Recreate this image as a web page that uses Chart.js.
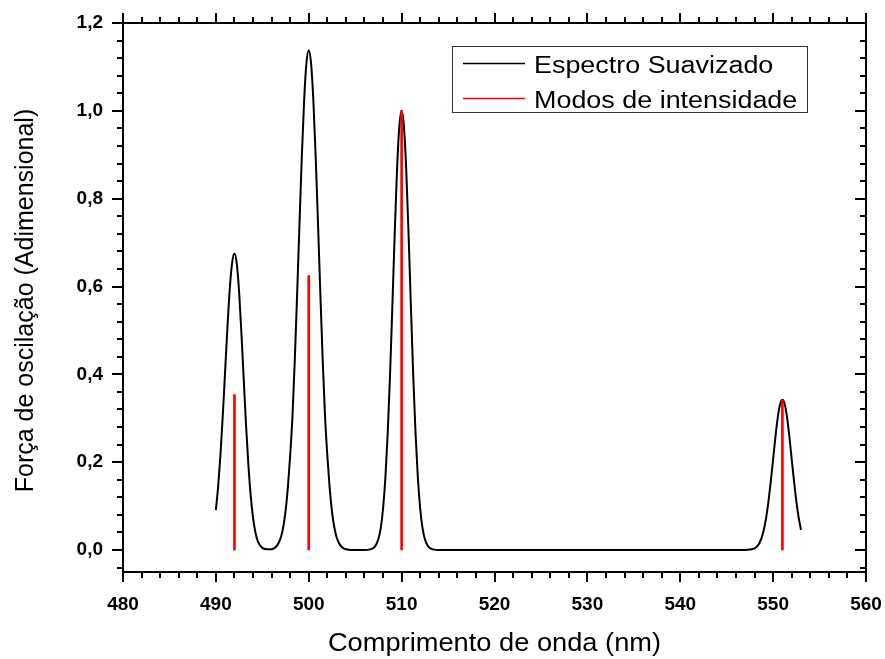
<!DOCTYPE html>
<html>
<head>
<meta charset="utf-8">
<script src="https://cdn.jsdelivr.net/npm/chart.js@4.4.1/dist/chart.umd.min.js"></script>
<style>
  html, body { margin: 0; padding: 0; background: #fff; }
</style>
</head>
<body>
<canvas id="spec" width="885" height="659"></canvas>
<script>
// smoothed spectrum (nm, dimensionless)
const specX = [
  490, 490.25, 490.5, 490.75, 491, 491.25, 491.5, 491.75, 492, 492.25, 492.5, 492.75,
  493, 493.25, 493.5, 493.75, 494, 494.25, 494.5, 494.75, 495, 495.5, 496,
  496.25, 496.5, 496.75, 497, 497.25, 497.5, 497.75, 498, 498.25, 498.5, 498.75,
  499, 499.25, 499.5, 499.75, 500, 500.25, 500.5, 500.75, 501, 501.25, 501.5, 501.75,
  502, 502.25, 502.5, 502.75, 503, 503.25, 503.5, 503.75, 504, 505, 506, 506.5,
  507, 507.25, 507.5, 507.75, 508, 508.25, 508.5, 508.75, 509, 509.25, 509.5, 509.75,
  510, 510.25, 510.5, 510.75, 511, 511.25, 511.5, 511.75, 512, 512.25, 512.5, 512.75,
  513, 513.5, 514, 520, 530, 540, 547, 547.5, 548, 548.25, 548.5, 548.75,
  549, 549.25, 549.5, 549.75, 550, 550.25, 550.5, 550.75, 551, 551.25, 551.5, 551.75,
  552, 552.25, 552.5, 552.75, 553
];
const specY = [
  0.091, 0.146, 0.219, 0.309, 0.409, 0.509, 0.596, 0.654, 0.675, 0.652, 0.588, 0.494,
  0.388, 0.284, 0.194, 0.124, 0.074, 0.041, 0.021, 0.011, 0.005, 0.002, 0.002,
  0.004, 0.008, 0.016, 0.029, 0.052, 0.088, 0.142, 0.215, 0.306, 0.434, 0.583,
  0.741, 0.894, 1.022, 1.108, 1.138, 1.108, 1.022, 0.894, 0.741, 0.583, 0.434, 0.306,
  0.215, 0.142, 0.088, 0.052, 0.029, 0.016, 0.008, 0.004, 0.002, 0, 0, 0.001,
  0.005, 0.012, 0.025, 0.050, 0.094, 0.164, 0.265, 0.397, 0.554, 0.717, 0.863, 0.964,
  1.000, 0.964, 0.863, 0.717, 0.554, 0.397, 0.265, 0.164, 0.094, 0.050, 0.025, 0.012,
  0.005, 0.001, 0, 0, 0, 0, 0, 0.001, 0.004, 0.008, 0.015, 0.027,
  0.046, 0.074, 0.111, 0.157, 0.207, 0.258, 0.302, 0.332, 0.342, 0.332, 0.302, 0.258,
  0.207, 0.157, 0.111, 0.074, 0.046
];

// intensity modes (sticks)
const modeX = [492, 500, 510, 551];
const modeY = [0.354, 0.625, 1.0, 0.342];

const xTicks = [480, 490, 500, 510, 520, 530, 540, 550, 560];
const yTicks = [0, 0.2, 0.4, 0.6, 0.8, 1.0, 1.2];
const seriesNames = ['Espectro Suavizado', 'Modos de intensidade'];

const FONT = "'Liberation Sans', Arial, sans-serif";

// stretched text, the original figure is wider than its glyph height
function wideText(ctx, txt, x, y, sx) {
  ctx.save();
  ctx.translate(x, y);
  ctx.scale(sx, 1);
  ctx.fillText(txt, 0, 0);
  ctx.restore();
}

const frame = {
  id: 'frame',
  afterDatasetsDraw(chart) {
    const { ctx, chartArea: a, scales: { x, y } } = chart;
    ctx.save();
    ctx.strokeStyle = '#000';
    ctx.lineWidth = 2;
    ctx.strokeRect(a.left, a.top, a.right - a.left, a.bottom - a.top);

    ctx.beginPath();
    // x ticks: outward on bottom and top
    for (let i = 0; i < xTicks.length; i++) {
      for (let k = 0; k < 5; k++) {
        if (i === xTicks.length - 1 && k > 0) break;
        const v = xTicks[i] + k * (xTicks[1] - xTicks[0]) / 5;
        const px = Math.round(x.getPixelForValue(v));
        const len = k === 0 ? 10 : 6;
        ctx.moveTo(px, a.bottom); ctx.lineTo(px, a.bottom + len);
        ctx.moveTo(px, a.top); ctx.lineTo(px, a.top - len);
      }
    }
    // y ticks: outward on the left, inward on the right
    for (let i = -1; i < yTicks.length; i++) {
      for (let k = 0; k < 5; k++) {
        const base = i < 0 ? -0.2 : yTicks[i];
        const v = base + k * 0.04;
        if (v < y.min - 1e-9 || v > y.max + 1e-9) continue;
        if (i === yTicks.length - 1 && k > 0) break;
        const py = Math.round(y.getPixelForValue(v));
        const len = k === 0 ? 11 : 6;
        ctx.moveTo(a.left, py); ctx.lineTo(a.left - len, py);
        ctx.moveTo(a.right, py); ctx.lineTo(a.right - len, py);
      }
    }
    ctx.stroke();

    // axis titles
    ctx.fillStyle = '#000';
    ctx.font = '25px ' + FONT;
    ctx.textAlign = 'center';
    ctx.textBaseline = 'alphabetic';
    wideText(ctx, 'Comprimento de onda (nm)', (a.left + a.right) / 2, 651, 1.09);
    ctx.save();
    ctx.translate(33, (a.top + a.bottom) / 2 + 3);
    ctx.rotate(-Math.PI / 2);
    ctx.fillText('Força de oscilação (Adimensional)', 0, 0);
    ctx.restore();

    // legend box
    ctx.lineWidth = 1;
    ctx.strokeStyle = '#333';
    ctx.strokeRect(452.5, 46.5, 355, 66);
    const cols = ['#000', '#ff0000'];
    ctx.font = '23px ' + FONT;
    ctx.textAlign = 'left';
    ctx.textBaseline = 'alphabetic';
    seriesNames.forEach((n, i) => {
      const yy = 63.5 + i * 35;
      ctx.strokeStyle = cols[i];
      ctx.lineWidth = 1.5;
      ctx.beginPath();
      ctx.moveTo(463, yy); ctx.lineTo(525, yy);
      ctx.stroke();
      wideText(ctx, n, 534, yy + 9, 1.17);
    });
    ctx.restore();
  }
};

new Chart(document.getElementById('spec'), {
  data: {
    datasets: [
      {
        type: 'line',
        label: seriesNames[0],
        data: specX.map((v, i) => ({ x: v, y: specY[i] })),
        borderColor: '#000',
        borderWidth: 2,
        pointRadius: 0,
        cubicInterpolationMode: 'monotone',
        fill: false,
        order: 2
      },
      {
        type: 'bar',
        label: seriesNames[1],
        data: modeX.map((v, i) => ({ x: v, y: modeY[i] })),
        backgroundColor: '#ff0000',
        barThickness: 2,
        borderWidth: 0,
        order: 1
      }
    ]
  },
  options: {
    responsive: false,
    animation: false,
    devicePixelRatio: 1,
    layout: { padding: { left: 0, top: 23, right: 19, bottom: 0 } },
    plugins: { legend: { display: false }, tooltip: { enabled: false } },
    scales: {
      x: {
        type: 'linear',
        min: 480,
        max: 560,
        offset: false,
        grid: { display: false, drawTicks: false },
        border: { display: false },
        afterBuildTicks: s => { s.ticks = xTicks.map(v => ({ value: v })); },
        afterFit: s => { s.height = 87; s.paddingLeft = 0; s.paddingRight = 0; },
        ticks: {
          color: '#000',
          padding: 21,
          maxRotation: 0,
          font: { family: FONT, size: 19, weight: 'bold' }
        }
      },
      y: {
        min: -0.05,
        max: 1.2,
        grid: { display: false, drawTicks: false },
        border: { display: false },
        afterBuildTicks: s => { s.ticks = yTicks.map(v => ({ value: v })); },
        afterFit: s => { s.width = 123; s.paddingTop = 0; s.paddingBottom = 0; },
        ticks: {
          color: '#000',
          padding: 20,
          font: { family: FONT, size: 19, weight: 'bold' },
          callback: v => v.toFixed(1).replace('.', ',')
        }
      }
    }
  },
  plugins: [frame]
});
</script>
</body>
</html>
